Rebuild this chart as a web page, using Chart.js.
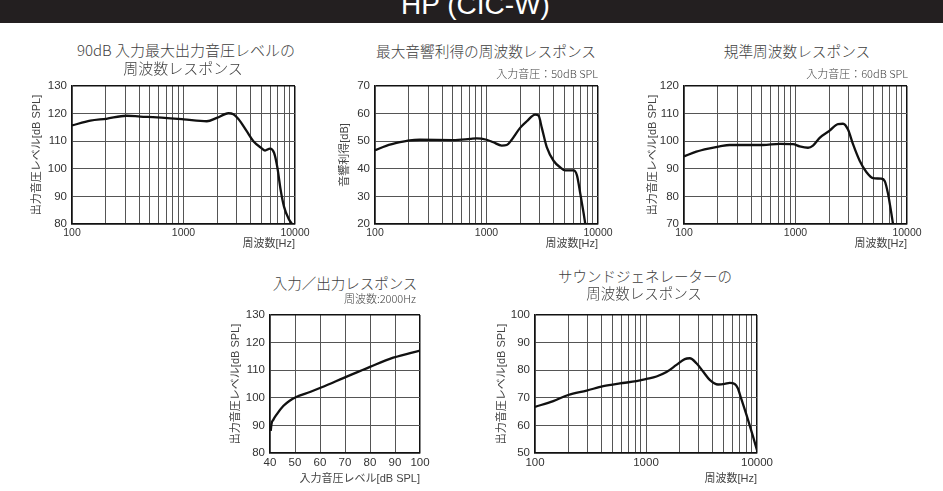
<!DOCTYPE html>
<html>
<head>
<meta charset="utf-8">
<script src="https://cdn.jsdelivr.net/npm/chart.js@4.4.0/dist/chart.umd.min.js"></script>
<style>
body { margin: 0; background: #fff; width: 943px; height: 491px; overflow: hidden; position: relative;
       font-family: "Liberation Sans", "Noto Sans CJK JP", sans-serif; }
#header { position: absolute; left: 0; top: 0; width: 943px; height: 23px; background: #231f20; overflow: hidden; }
#header span { position: absolute; left: 4px; width: 943px; text-align: center; top: -9px;
               font-size: 28px; line-height: 28px; color: #fff; }
canvas { position: absolute; }
.t { position: absolute; white-space: nowrap; color: #3e3e3e; line-height: 18px; font-weight: 300;
     font-family: "Noto Sans CJK JP", "Liberation Sans", sans-serif; }
</style>
</head>
<body>
<div id="header"><span>HP (CIC-W)</span></div>
<script>
// frequency axis ticks (grid every 100/1000, labels on decades)
const freqTicks = [100, 200, 300, 400, 500, 600, 700, 800, 900, 1000,
                   2000, 3000, 4000, 5000, 6000, 7000, 8000, 9000, 10000];
const freqLabels = [100, 1000, 10000];

// 90dB input max output
const freq1 = [100, 146, 203, 307, 409, 577, 1000, 1618, 1989, 2529, 2804, 3108, 3690, 4236, 5026, 5385, 5970, 6486, 6946, 7443, 7969, 8720, 9400];
const level1 = [115.7, 117.4, 118.1, 119.2, 118.9, 118.6, 117.9, 117.2, 118.4, 120.1, 119.7, 118.0, 113.6, 110.0, 107.4, 106.6, 107.3, 105.8, 100.5, 92.2, 86.3, 82.1, 80];

// max acoustic gain
const freq2 = [100, 126, 167, 205, 252, 503, 711, 815, 1003, 1152, 1369, 1518, 1684, 2001, 2298, 2731, 2926, 3135, 3477, 3993, 4584, 5084, 6040, 6473, 6937, 7432, 7691];
const gain2 = [46.7, 48.3, 49.6, 50.3, 50.5, 50.4, 50.8, 51.0, 50.5, 49.6, 48.4, 48.6, 50.5, 54.8, 57.2, 59.6, 59.3, 54.8, 47.7, 42.9, 40.5, 39.4, 39.4, 37.6, 31.0, 23.9, 20];

// reference frequency response
const freq3 = [100, 129, 170, 209, 257, 362, 511, 721, 950, 1090, 1295, 1435, 1647, 2025, 2406, 2667, 2957, 3279, 3763, 4318, 4956, 5887, 6306, 6755, 7236, 7489];
const level3 = [94.5, 96.2, 97.4, 98.1, 98.6, 98.6, 98.6, 99.0, 98.9, 98.1, 97.6, 98.4, 101.2, 103.8, 106.2, 106.3, 104.2, 98.9, 92.9, 88.8, 86.6, 86.4, 85.6, 81.0, 73.9, 70];

// input / output at 2000Hz
const input4 = [40.3, 40.6, 41.3, 42.7, 45.3, 48, 50.3, 56, 60.7, 69.3, 80, 89.3, 100];
const output4 = [88.0, 90.5, 92.0, 94.0, 97.0, 99.0, 100.2, 102.1, 103.8, 107.1, 111.2, 114.5, 117.1];

// sound generator
const freq5 = [100, 146, 199, 292, 412, 582, 821, 1010, 1243, 1529, 1881, 2235, 2480, 2847, 3268, 3752, 4459, 5119, 5678, 6298, 6700, 7230, 8300, 9204, 10000];
const level5 = [66.7, 68.8, 71.0, 72.6, 74.2, 75.2, 76.0, 76.8, 77.7, 79.3, 81.9, 84.0, 84.3, 82.5, 79.5, 76.5, 74.8, 75.0, 75.4, 75.0, 73.5, 69.5, 62.0, 56.0, 51.0];

const FONT = "'Liberation Sans', 'Noto Sans CJK JP', sans-serif";

function addText(text, x, y, size, align) {
  const d = document.createElement('div');
  d.className = 't';
  d.textContent = text;
  d.style.fontSize = size + 'px';
  d.style.top = (y - 9) + 'px';
  if (align === 'right') {
    d.style.right = (943 - x) + 'px';
  } else {
    d.style.left = x + 'px';
    d.style.transform = 'translateX(-50%)';
  }
  document.body.appendChild(d);
}

function edgeColor(min, max) {
  return ctx => (ctx.tick && (ctx.tick.value === min || ctx.tick.value === max)) ? '#111' : '#555';
}
function edgeWidth(min, max) {
  return ctx => (ctx.tick && (ctx.tick.value === min || ctx.tick.value === max)) ? 1.5 : 1;
}

function logAxis(xh, size) {
  return {
    type: 'logarithmic', min: 100, max: 10000,
    afterBuildTicks: s => { s.ticks = freqTicks.map(v => ({ value: v })); },
    afterFit: s => { s.height = xh; },
    grid: { color: edgeColor(100, 10000), lineWidth: edgeWidth(100, 10000), drawTicks: false },
    border: { color: '#111', width: 1.5 },
    ticks: {
      autoSkip: false, maxRotation: 0, padding: 3, color: '#333',
      font: { family: FONT, size: size },
      callback: v => freqLabels.includes(v) ? String(v) : ''
    },
    title: { display: true, text: '周波数[Hz]', align: 'end', color: '#444', padding: 0,
             font: { family: FONT, size: 11 } }
  };
}

function yAxis(min, max, yw, text) {
  return {
    min: min, max: max,
    afterFit: s => { s.width = yw; },
    grid: { color: edgeColor(min, max), lineWidth: edgeWidth(min, max), drawTicks: false },
    border: { color: '#111', width: 1.5 },
    ticks: { stepSize: 10, padding: 5, color: '#333', font: { family: FONT, size: 11.5 } },
    title: { display: true, text: text, color: '#444', padding: 0, font: { family: FONT, size: 11 } }
  };
}

function makeChart(box, xs, ys, xScale, yScale) {
  const c = document.createElement('canvas');
  c.width = box.w;
  c.height = box.h;
  c.style.left = box.l + 'px';
  c.style.top = box.t + 'px';
  document.body.appendChild(c);
  return new Chart(c, {
    type: 'line',
    data: {
      datasets: [{
        data: xs.map((x, i) => ({ x: x, y: ys[i] })),
        borderColor: '#111',
        borderWidth: 2.3,
        pointRadius: 0,
        fill: false,
        cubicInterpolationMode: 'monotone'
      }]
    },
    options: {
      responsive: false,
      animation: false,
      devicePixelRatio: 1,
      layout: { padding: { left: 0, top: 10, right: 20, bottom: 0 } },
      plugins: { legend: { display: false }, tooltip: { enabled: false } },
      scales: { x: xScale, y: yScale }
    }
  });
}

// chart 1
makeChart({ l: 30, t: 74, w: 285, h: 177 }, freq1, level1,
  logAxis(27, 10.5), yAxis(80, 130, 42, '出力音圧レベル[dB SPL]'));
addText('90dB 入力最大出力音圧レベルの', 186, 50, 15);
addText('周波数レスポンス', 183, 68, 15);

// chart 2
makeChart({ l: 338, t: 74, w: 280, h: 177 }, freq2, gain2,
  logAxis(27, 10.5), yAxis(20, 70, 37, '音響利得[dB]'));
addText('最大音響利得の周波数レスポンス', 486, 51, 14.7);
addText('入力音圧：50dB SPL', 598, 73, 11, 'right');

// chart 3
makeChart({ l: 646, t: 74, w: 281, h: 177 }, freq3, level3,
  logAxis(27, 10.5), yAxis(70, 120, 38, '出力音圧レベル[dB SPL]'));
addText('規準周波数レスポンス', 797, 51, 14.7);
addText('入力音圧：60dB SPL', 908, 73, 11, 'right');

// chart 4
makeChart({ l: 229, t: 303, w: 211, h: 183 }, input4, output4,
  {
    type: 'linear', min: 40, max: 100,
    afterFit: s => { s.height = 33; },
    grid: { color: edgeColor(40, 100), lineWidth: edgeWidth(40, 100), drawTicks: false },
    border: { color: '#111', width: 1.5 },
    ticks: { stepSize: 10, maxRotation: 0, padding: 3, color: '#333', font: { family: FONT, size: 11.5 } },
    title: { display: true, text: '入力音圧レベル[dB SPL]', align: 'end', color: '#444', padding: 0,
             font: { family: FONT, size: 11 } }
  },
  yAxis(80, 130, 41, '出力音圧レベル[dB SPL]'));
addText('入力／出力レスポンス', 345, 283, 14.5);
addText('周波数:2000Hz', 416, 298, 11, 'right');

// chart 5
makeChart({ l: 495, t: 303, w: 282, h: 183 }, freq5, level5,
  logAxis(33, 11.5), yAxis(50, 100, 40, '出力音圧レベル[dB SPL]'));
addText('サウンドジェネレーターの', 645, 276, 14.5);
addText('周波数レスポンス', 644, 293, 14.5);
</script>
</body>
</html>
